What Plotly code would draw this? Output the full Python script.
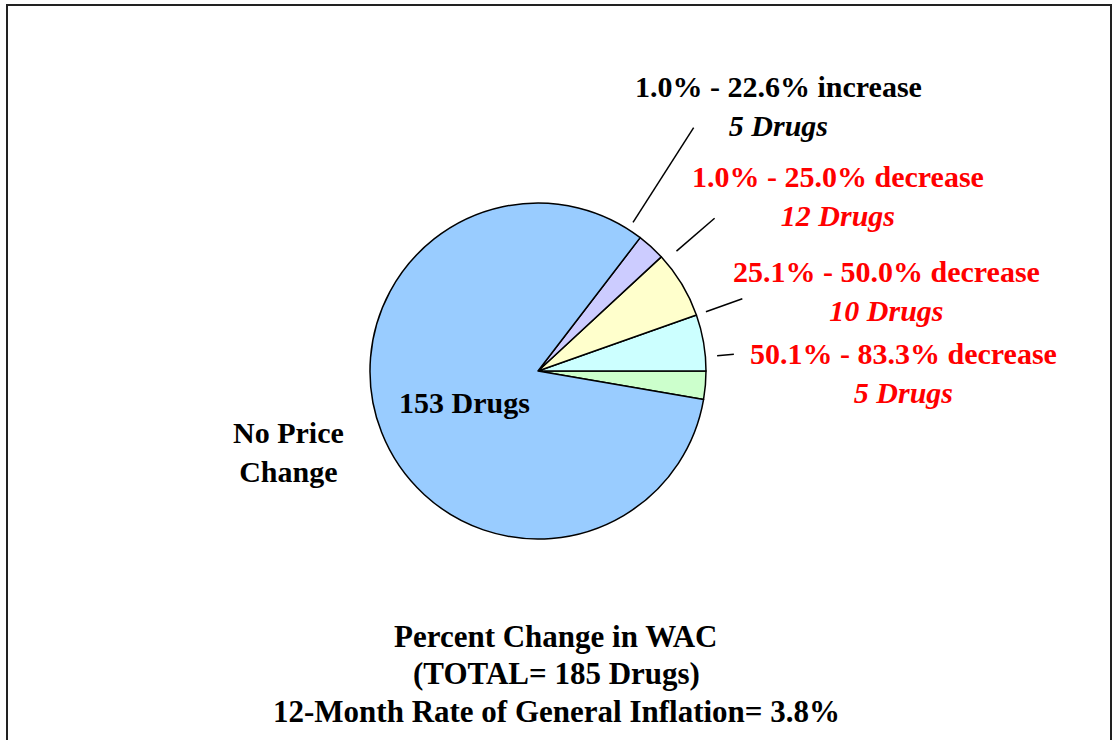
import numpy as np
import plotly.graph_objects as go

# slices, counter-clockwise from 3 o'clock
ranges = ['50.1% - 83.3% decrease', '25.1% - 50.0% decrease', '1.0% - 25.0% decrease',
          '1.0% - 22.6% increase', 'No Price Change']
drugs = [5, 10, 12, 5, 153]
colors = ['#CCFFCC', '#CCFFFF', '#FFFFCC', '#CCCCFF', '#99CCFF']
text_colors = ['#FF0000', '#FF0000', '#FF0000', 'black', 'black']

total = sum(drugs)
inflation = 3.8

W, H = 1118, 740
cx, cy, R = 538, 371, 168   # pie centre / radius in px

def px(x):
    return x / W

def py(y):
    return 1 - y / H

fig = go.Figure(go.Pie(
    values=drugs,
    labels=ranges,
    marker=dict(colors=colors, line=dict(color='black', width=1.5)),
    sort=False,
    direction='counterclockwise',
    rotation=90,
    textinfo='none',
    hoverinfo='label+value',
    showlegend=False,
    domain=dict(x=[px(cx - R), px(cx + R)], y=[py(cy + R), py(cy - R)]),
))

font = 'Liberation Serif, Times New Roman, serif'

# label positions (px) and leader-line radii for the small slices
label_pos = [(903, 373), (886, 291), (838, 196), (778, 106)]
leader = [(1.07, 1.17), (1.06, 1.29), (1.09, 1.39), (1.05, 1.72)]

ang = np.cumsum([0] + drugs[:-1]) / total * 360 + np.array(drugs) / total * 180
shapes = []
annotations = []
for i in range(4):
    a = np.radians(ang[i])
    r0, r1 = leader[i]
    shapes.append(dict(type='line', xref='paper', yref='paper',
                       x0=px(cx + r0 * R * np.cos(a)), y0=py(cy - r0 * R * np.sin(a)),
                       x1=px(cx + r1 * R * np.cos(a)), y1=py(cy - r1 * R * np.sin(a)),
                       line=dict(color='black', width=1.5)))
    x, y = label_pos[i]
    annotations.append(dict(
        xref='paper', yref='paper', x=px(x), y=py(y), showarrow=False,
        xanchor='center', yanchor='middle',
        text=f'<b>{ranges[i]}</b><br><b><i>{drugs[i]} Drugs</i></b>',
        font=dict(family=font, size=30, color=text_colors[i])))

annotations.append(dict(xref='paper', yref='paper', x=px(464), y=py(402), showarrow=False,
                        xanchor='center', yanchor='middle',
                        text=f'<b>{drugs[4]} Drugs</b>',
                        font=dict(family=font, size=30, color='black')))
annotations.append(dict(xref='paper', yref='paper', x=px(288), y=py(452), showarrow=False,
                        xanchor='center', yanchor='middle',
                        text='<b>No Price</b><br><b>Change</b>',
                        font=dict(family=font, size=30, color='black')))

bottom_lines = ['Percent Change in WAC', f'(TOTAL= {total} Drugs)',
                f'12-Month Rate of General Inflation= {inflation}%']
for line, y in zip(bottom_lines, [636, 673, 711]):
    annotations.append(dict(xref='paper', yref='paper', x=px(556), y=py(y), showarrow=False,
                            xanchor='center', yanchor='middle', text=f'<b>{line}</b>',
                            font=dict(family=font, size=31, color='black')))

# outer frame
shapes.append(dict(type='rect', xref='paper', yref='paper',
                   x0=px(7), x1=px(1111), y0=-0.2, y1=py(5),
                   line=dict(color='#222222', width=2)))

fig.update_layout(
    width=W, height=H,
    margin=dict(l=0, r=0, t=0, b=0),
    paper_bgcolor='white',
    plot_bgcolor='white',
    shapes=shapes,
    annotations=annotations,
)

fig.write_html('out.html', config={'displayModeBar': False},
               post_script="document.body.style.margin='0';")
